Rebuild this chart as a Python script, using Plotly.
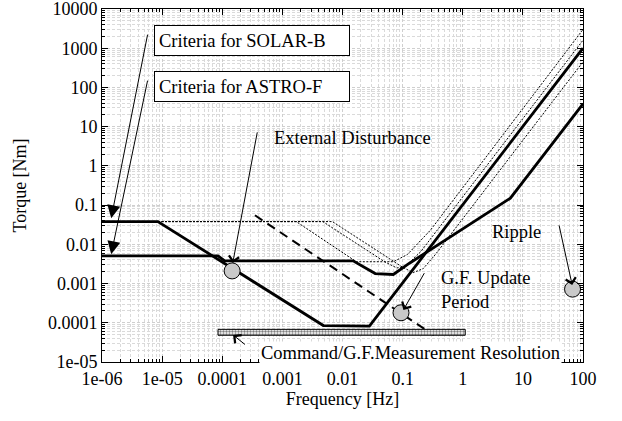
import plotly.graph_objects as go

# ---------------- data (frequency [Hz], torque [Nm]) ----------------
# Criteria for SOLAR-B (thick)
solarb_f = [1e-6, 8.5e-6, 0.0048, 0.028, 100]
solarb_T = [0.038, 0.038, 8.5e-5, 8.2e-5, 1000]

# Criteria for ASTRO-F (thick)
astrof_f = [1e-6, 8.5e-5, 1.1e-4, 0.015, 0.035, 0.07, 0.13, 6.2, 100]
astrof_T = [0.0051, 0.0051, 0.0038, 0.0038, 0.0018, 0.0017, 0.0033, 0.15, 38]

# thin dotted variants
thinA_f = [1e-6, 0.0017, 0.017, 0.07, 0.12, 0.29, 100]
thinA_T = [0.038, 0.038, 0.0036, 0.0036, 0.0055, 0.023, 3000]
thinB_f = [1e-6, 0.0047, 0.05, 0.08, 0.11, 0.2, 100]
thinB_T = [0.038, 0.038, 0.0036, 0.0025, 0.0027, 0.0065, 1600]
thinC_f = [1e-6, 0.0068, 0.1, 0.15, 0.22, 0.35, 100]
thinC_T = [0.038, 0.038, 0.0026, 0.0019, 0.0024, 0.0055, 450]

# dashed line
dash_f = [3.5e-4, 0.33]
dash_T = [0.055, 4.8e-5]

# Command / G.F. measurement resolution band
band_f = [8.5e-5, 1.1]
band_T = [4.8e-5, 6.8e-5]

# circle markers: external disturbance, G.F. update period, ripple
mark_f = [1.46e-4, 0.094, 67]
mark_T = [0.0021, 1.8e-4, 7.2e-4]

# tick labels
xtick_vals = [1e-6, 1e-5, 1e-4, 1e-3, 1e-2, 0.1, 1, 10, 100]
xtick_text = ["1e-06", "1e-05", "0.0001", "0.001", "0.01", "0.1", "1", "10", "100"]
ytick_vals = [1e-5, 1e-4, 1e-3, 1e-2, 0.1, 1, 10, 100, 1000, 10000]
ytick_text = ["1e-05", "0.0001", "0.001", "0.01", "0.1", "1", "10", "100", "1000", "10000"]

FONT = "Liberation Serif"

# minor tick positions (2..9 within each decade)
x_minor = [m * d for d in xtick_vals[:-1] for m in range(2, 10)]
y_minor = [m * d for d in ytick_vals[:-1] for m in range(2, 10)]

fig = go.Figure()

for f, T in [(thinA_f, thinA_T), (thinB_f, thinB_T), (thinC_f, thinC_T)]:
    fig.add_trace(go.Scatter(x=f, y=T, mode="lines",
                             line=dict(color="black", width=1, dash="2px,1.5px"),
                             showlegend=False, hoverinfo="skip"))

fig.add_trace(go.Scatter(x=dash_f, y=dash_T, mode="lines",
                         line=dict(color="black", width=2, dash="9px,6px"),
                         showlegend=False))
fig.add_trace(go.Scatter(x=astrof_f, y=astrof_T, mode="lines",
                         line=dict(color="black", width=2.8), showlegend=False))
fig.add_trace(go.Scatter(x=solarb_f, y=solarb_T, mode="lines",
                         line=dict(color="black", width=2.8), showlegend=False))

# band as a patterned polygon
bx = [band_f[0], band_f[1], band_f[1], band_f[0], band_f[0]]
by = [band_T[0], band_T[0], band_T[1], band_T[1], band_T[0]]
fig.add_trace(go.Scatter(x=bx, y=by, mode="lines", fill="toself",
                         fillcolor="white",
                         fillpattern=dict(shape=".", fgcolor="black", bgcolor="white",
                                          size=3, solidity=0.5),
                         line=dict(color="black", width=1), showlegend=False))

fig.add_trace(go.Scatter(x=mark_f, y=mark_T, mode="markers",
                         marker=dict(symbol="circle", size=16, color="#c9c9c9",
                                     line=dict(color="black", width=1)),
                         showlegend=False))

annots = []
# boxed labels
for txt, yv in [("Criteria for SOLAR-B", 3.202), ("Criteria for ASTRO-F", 2.036)]:
    annots.append(dict(x=-5.137, y=yv, xref="x", yref="y", text=txt, showarrow=False,
                       xanchor="left", yanchor="middle", align="left",
                       width=186, height=21, borderpad=4, borderwidth=1,
                       bordercolor="black", bgcolor="white",
                       font=dict(family=FONT, size=18.5, color="black")))
# plain labels
for txt, xv, yv, bg in [("External Disturbance", -3.175, 0.70, "rgba(0,0,0,0)"),
                        ("G.F. Update<br>Period", -0.397, -3.171, "rgba(0,0,0,0)"),
                        ("Ripple", 0.46, -1.691, "rgba(0,0,0,0)"),
                        ("Command/G.F.Measurement Resolution", -3.385, -4.778, "white")]:
    annots.append(dict(x=xv, y=yv, xref="x", yref="y", text=txt, showarrow=False,
                       xanchor="left", yanchor="middle", align="left", bgcolor=bg,
                       font=dict(family=FONT, size=18.5, color="black")))
# arrows: (head_x, head_y, tail_x, tail_y, head style, size)
arrows = [(-5.847, -1.334, -5.237, 3.385, 2, 2.6),
          (-5.847, -2.253, -5.237, 2.212, 2, 2.6),
          (-3.825, -2.474, -3.413, 0.893, 4, 2.0),
          (-0.987, -3.673, -0.625, -2.696, 4, 2.0),
          (1.82, -3.036, 1.597, -1.48, 4, 2.0),
          (-3.82, -4.311, -3.597, -4.584, 4, 2.0)]
for hx, hy, tx, ty, ah, asz in arrows:
    annots.append(dict(x=hx, y=hy, ax=tx, ay=ty, xref="x", yref="y", axref="x", ayref="y",
                       text="", showarrow=True, arrowhead=ah, arrowsize=asz,
                       arrowwidth=1, arrowcolor="black", standoff=0))

axis_common = dict(type="log", showline=True, linecolor="black", linewidth=1,
                   mirror="allticks", ticks="inside", ticklen=6, tickcolor="black",
                   tickmode="array", zeroline=False, automargin=False,
                   ticklabeloverflow="allow",
                   showgrid=True, gridcolor="#cfcfcf", griddash="3px,2px", gridwidth=1,
                   tickfont=dict(family=FONT, size=18, color="black"))

fig.update_layout(
    width=622, height=421,
    margin=dict(l=102, r=39, t=9, b=59),
    plot_bgcolor="white", paper_bgcolor="white",
    xaxis=dict(range=[-6, 2], tickvals=xtick_vals, ticktext=xtick_text,
               minor=dict(tickmode="array", tickvals=x_minor, ticks="inside", ticklen=3,
                          tickcolor="black", showgrid=True, gridcolor="#dadada",
                          griddash="3px,2px"),
               title=dict(text="Frequency [Hz]", standoff=1,
                          font=dict(family=FONT, size=18, color="black")),
               **axis_common),
    yaxis=dict(range=[-5, 4], tickvals=ytick_vals, ticktext=ytick_text,
               minor=dict(tickmode="array", tickvals=y_minor, ticks="inside", ticklen=3,
                          tickcolor="black", showgrid=True, gridcolor="#dadada",
                          griddash="3px,2px"),
               title=dict(text="Torque [Nm]", standoff=16,
                          font=dict(family=FONT, size=18, color="black")),
               **axis_common),
    annotations=annots,
    showlegend=False,
)

fig.write_html("out.html", config={"displayModeBar": False},
               post_script="document.body.style.margin='0';document.body.style.padding='0';")
